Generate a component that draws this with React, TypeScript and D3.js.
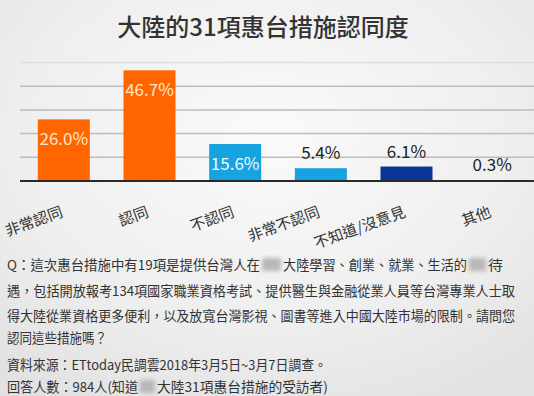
import React from "react";
import * as d3 from "d3";

const categories = ["非常認同", "認同", "不認同", "非常不認同", "不知道/沒意見", "其他"];
const values = [26.0, 46.7, 15.6, 5.4, 6.1, 0.3];
const barColors = ["#FF6600", "#FF6600", "#17A3E0", "#17A3E0", "#0B3596", "#0B3596"];
const insideLabel = [true, true, true, false, false, false];
const gridTicks = [10, 20, 30, 40, 50];

const title = "大陸的31項惠台措施認同度";
const noteLines = [
  // each line: array of [text or null for blurred block, x start, x end]
  [["Q：這次惠台措施中有19項是提供台灣人在", 7, 260], [null, 260, 283], ["大陸學習、創業、就業、生活的", 283, 467], [null, 467, 488], ["待", 488, 503]],
  [["遇，包括開放報考134項國家職業資格考試、提供醫生與金融從業人員等台灣專業人士取", 7, 515]],
  [["得大陸從業資格更多便利，以及放寬台灣影視、圖書等進入中國大陸市場的限制。請問您", 7, 515]],
  [["認同這些措施嗎？", 7, 107]],
  [["資料來源：ETtoday民調雲2018年3月5日~3月7日調查。", 7, 327]],
  [["回答人數：984人(知道", 7, 138], [null, 138, 157], ["大陸31項惠台措施的受訪者)", 157, 328]],
] as [string | null, number, number][][];
const noteY = [270, 296, 321, 343, 370, 392];

const W = 534;
const H = 396;
const font = "'Noto Sans CJK TC', 'Noto Sans', sans-serif";

export default function App() {
  const x = d3.scaleBand<string>()
    .domain(categories)
    .range([21, 535])
    .paddingInner(0.393)
    .paddingOuter(0.1965);
  const y = d3.scaleLinear().domain([0, 50]).range([181, 62.5]);

  return (
    <svg width={W} height={H} style={{ position: "absolute", left: 0, top: 0 }} fontFamily={font}>
      <defs>
        <radialGradient id="bg" cx="0.5" cy="0.35" r="0.75">
          <stop offset="0" stopColor="#FAFAFA" />
          <stop offset="0.6" stopColor="#EFEFEF" />
          <stop offset="1" stopColor="#E2E2E2" />
        </radialGradient>
        <filter id="blur" x="-0.3" y="-0.3" width="1.6" height="1.6">
          <feGaussianBlur stdDeviation="2" />
        </filter>
      </defs>
      <rect width={W} height={H} fill="url(#bg)" />

      <text x={263} y={36} textAnchor="middle" fontSize={24} fill="#333" fontWeight={500}>{title}</text>

      {/* gridlines */}
      {gridTicks.map((t) => (
        <line key={t} x1={20} x2={W} y1={y(t)} y2={y(t)} stroke={t === 50 ? "#DDD" : "#BDBDBD"} strokeWidth={1.5} />
      ))}

      {/* bars */}
      {categories.map((c, i) => (
        <rect key={c} x={x(c)} y={y(values[i])} width={x.bandwidth()} height={y(0) - y(values[i])} fill={barColors[i]} />
      ))}

      <line x1={20} x2={W} y1={y(0)} y2={y(0)} stroke="#2A2A2A" strokeWidth={2} />

      {/* value labels */}
      {categories.map((c, i) => {
        const cx = (x(c) as number) + x.bandwidth() / 2;
        const inside = insideLabel[i];
        const ly = inside ? y(values[i]) + 26 : y(values[i]) - 9;
        const fill = inside ? (i < 2 ? "#FFE6CC" : "#F2FAFF") : "#222";
        return (
          <text key={c} x={cx} y={ly} textAnchor="middle" fontSize={17} fill={fill}>
            {values[i].toFixed(1)}%
          </text>
        );
      })}

      {/* category labels */}
      {categories.map((c) => {
        const cx = (x(c) as number) + x.bandwidth() / 2;
        return (
          <text key={c} x={cx} y={216} textAnchor="end" fontSize={15} fill="#333"
            transform={`rotate(-20, ${cx}, 216)`}>
            {c}
          </text>
        );
      })}

      {/* notes */}
      {noteLines.map((line, li) => (
        <g key={li}>
          {line.map(([t, x0, x1], si) =>
            t === null ? (
              <rect key={si} x={x0 + 2} y={noteY[li] - 12} width={x1 - x0 - 4} height={13} fill="#B8B8B8" filter="url(#blur)" />
            ) : (
              <text key={si} x={x0} y={noteY[li]} fontSize={13.5} fill="#333"
                textLength={x1 - x0} lengthAdjust="spacingAndGlyphs">
                {t}
              </text>
            )
          )}
        </g>
      ))}
    </svg>
  );
}
